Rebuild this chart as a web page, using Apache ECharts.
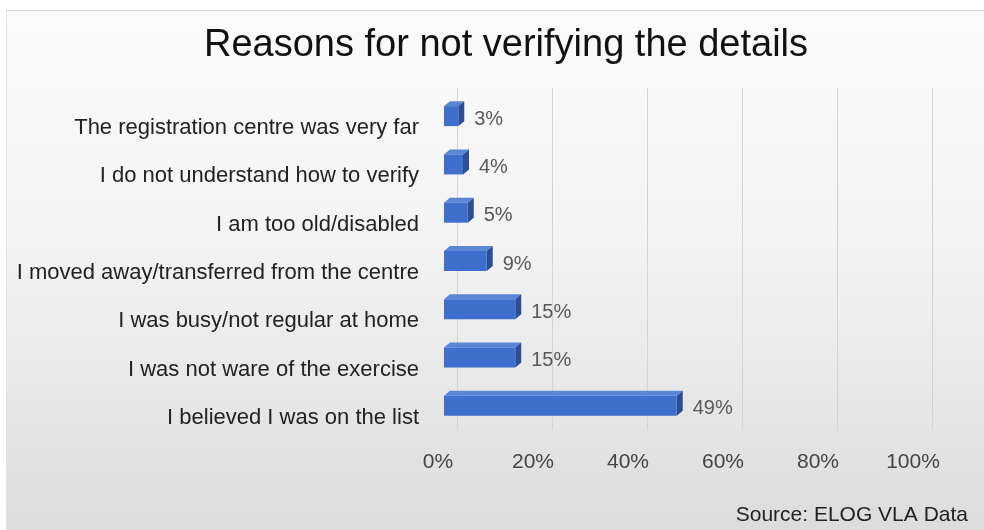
<!DOCTYPE html>
<html>
<head>
<meta charset="utf-8">
<script src="https://cdn.jsdelivr.net/npm/echarts@6/dist/echarts.min.js"></script>
<style>
html,body{margin:0;padding:0;background:#fff;}
#wrap{position:absolute;left:6px;top:10px;width:978px;height:520px;
  background:linear-gradient(to bottom,#fafafa 0%,#f3f3f3 45%,#dcdcdc 100%);
  border-top:1px solid #d8d8d8;border-left:1px solid #e2e2e2;box-sizing:border-box;}
#chart{position:absolute;left:0;top:0;width:984px;height:530px;}
</style>
</head>
<body>
<div id="wrap"></div>
<div id="chart"></div>
<script>
const categories = [
  "I believed I was on the list",
  "I was not ware of the exercise",
  "I was busy/not regular at home",
  "I moved away/transferred from the centre",
  "I am too old/disabled",
  "I do not understand how to verify",
  "The registration centre was very far"
];
const values = [49, 15, 15, 9, 5, 4, 3];
const tickLabels = ["0%", "20%", "40%", "60%", "80%", "100%"];

const chart = echarts.init(document.getElementById('chart'), null, {renderer: 'canvas'});
const DX = 6, DY = 5, BAR_H = 20, LIFT = 12;

const option = {
  backgroundColor: 'transparent',
  animation: false,
  title: [{
    text: 'Reasons for not verifying the details',
    left: 501, top: 22, textAlign: 'center',
    textStyle: {fontFamily: 'Liberation Sans', fontSize: 38, fontWeight: 'normal', color: '#111'}
  }, {
    text: 'Source: ELOG VLA Data',
    right: 11, top: 500,
    textStyle: {fontFamily: 'Liberation Sans', fontSize: 21, fontWeight: 'normal', color: '#222'}
  }],
  grid: [
    {left: 444, top: 104, width: 475, height: 338},
    {left: 457, top: 88, width: 475, height: 342}
  ],
  xAxis: [{
    gridIndex: 0, type: 'value', min: 0, max: 100, interval: 20,
    axisLine: {show: false}, axisTick: {show: false}, splitLine: {show: false},
    axisLabel: {formatter: v => tickLabels[v / 20], fontFamily: 'Liberation Sans', fontSize: 21, color: '#444', margin: 10, padding: [0, 12, 0, 0]}
  }, {
    gridIndex: 1, type: 'value', min: 0, max: 100, interval: 20,
    axisLine: {show: false}, axisTick: {show: false}, axisLabel: {show: false},
    splitLine: {show: true, lineStyle: {color: '#d4d4d4', width: 1}}
  }],
  yAxis: [{
    gridIndex: 0, type: 'category', data: categories,
    axisLine: {show: false}, axisTick: {show: false},
    axisLabel: {fontFamily: 'Liberation Sans', fontSize: 22, color: '#222', margin: 25}
  }, {
    gridIndex: 1, type: 'category', data: categories,
    axisLine: {show: false}, axisTick: {show: false}, axisLabel: {show: false}
  }],
  series: [{
    type: 'custom',
    xAxisIndex: 0, yAxisIndex: 0,
    data: values.map((v, i) => [v, i]),
    renderItem: function (params, api) {
      const v = api.value(0), c = api.value(1);
      const p0 = api.coord([0, c]);
      const p1 = api.coord([v, c]);
      const x0 = p0[0], x1 = p1[0];
      const cy = p0[1] - LIFT;
      const yt = cy - BAR_H / 2, yb = cy + BAR_H / 2;
      return {
        type: 'group',
        children: [
          {type: 'polygon', shape: {points: [[x0, yt], [x0 + DX, yt - DY], [x1 + DX, yt - DY], [x1, yt]]},
           style: {fill: '#5a86d6'}},
          {type: 'polygon', shape: {points: [[x1, yt], [x1 + DX, yt - DY], [x1 + DX, yb - DY], [x1, yb]]},
           style: {fill: '#2c4f94'}},
          {type: 'rect', shape: {x: x0, y: yt, width: x1 - x0, height: BAR_H},
           style: {fill: '#3f6fcd'}},
          {type: 'text', x: x1 + DX + 10, y: cy + 3,
           style: {text: v + '%', fill: '#595959', font: '20px "Liberation Sans"', textVerticalAlign: 'middle', textAlign: 'left'}}
        ]
      };
    }
  }]
};
chart.setOption(option);
</script>
</body>
</html>
